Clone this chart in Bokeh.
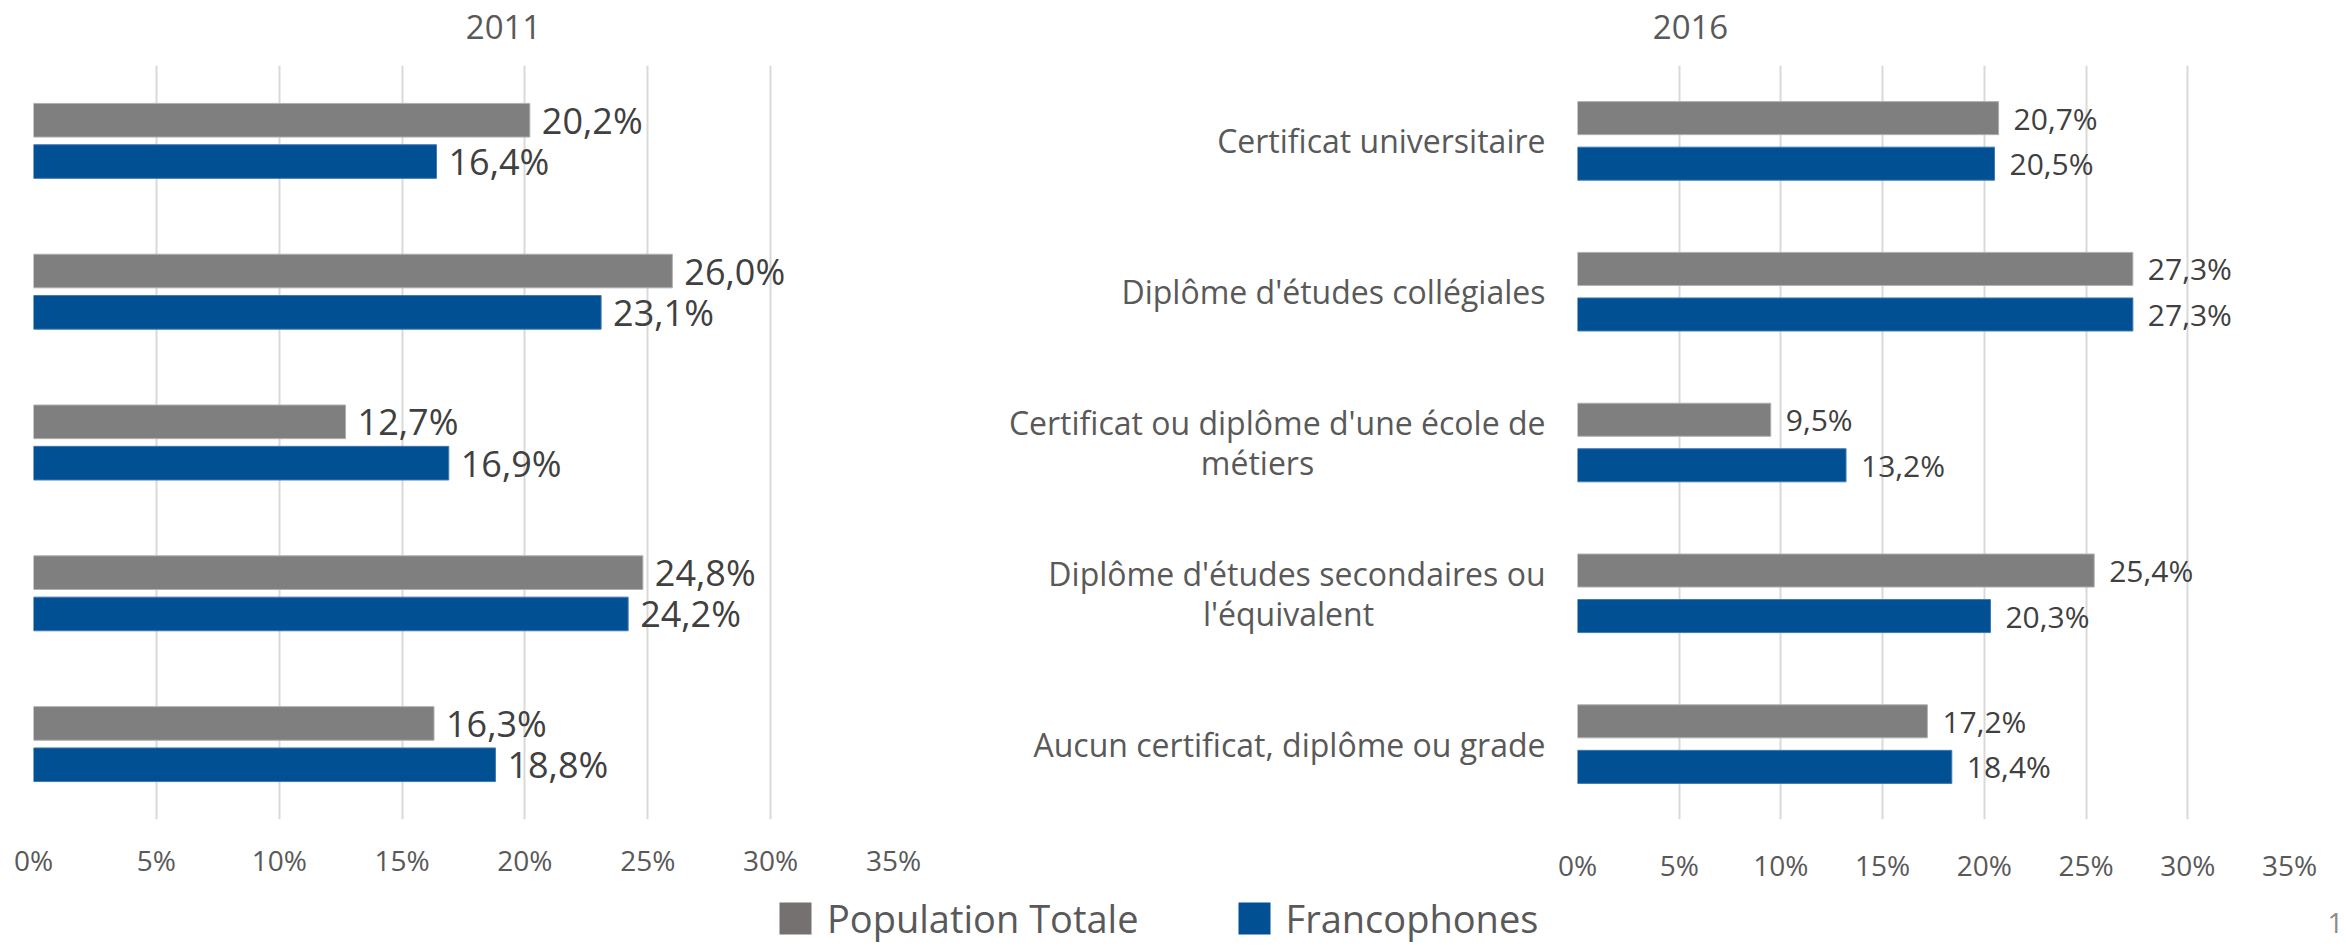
from bokeh.plotting import figure
from bokeh.models import (FactorRange, Range1d, FixedTicker, PrintfTickFormatter,
                          Label, Legend, LegendItem, ColumnDataSource)
from bokeh.transform import dodge
from bokeh.layouts import row, column
from bokeh.embed import file_html
from bokeh.resources import INLINE
from bokeh.core.properties import value

# ---------------- data ----------------
categories = [
    "Certificat universitaire",
    "Diplôme d'études collégiales",
    "Certificat ou diplôme d'une école de métiers",
    "Diplôme d'études secondaires ou l'équivalent",
    "Aucun certificat, diplôme ou grade",
]
category_lines = [
    ["Certificat universitaire"],
    ["Diplôme d'études collégiales"],
    ["Certificat ou diplôme d'une école de", "métiers"],
    ["Diplôme d'études secondaires ou", "l'équivalent"],
    ["Aucun certificat, diplôme ou grade"],
]
series_names = ["Population Totale", "Francophones"]
pop_2011 = [20.2, 26.0, 12.7, 24.8, 16.3]
fra_2011 = [16.4, 23.1, 16.9, 24.2, 18.8]
pop_2016 = [20.7, 27.3, 9.5, 25.4, 17.2]
fra_2016 = [20.5, 27.3, 13.2, 20.3, 18.4]
x_ticks = [0, 5, 10, 15, 20, 25, 30, 35]
titles = ["2011", "2016"]
page_number = "1"

GRAY = "#7f7f7f"
BLUE = "#005093"
FONT = "Open Sans"
TXT = "#595959"

W = 2346
TITLE_H = 55
LEG_H = 55
ROW_H = 947 - TITLE_H - LEG_H


def fmt(v):
    return ("%.1f" % v).replace(".", ",") + "%"


def blank(p):
    p.outline_line_color = None
    p.background_fill_color = "white"
    p.border_fill_color = "white"
    p.xgrid.visible = False
    p.ygrid.visible = False


def make_chart(pop, fra, width, bl, br, frame_top, frame_h, off, bar_h,
               lbl_size, lbl_off, standoff, y_range):
    bt = frame_top - TITLE_H
    p = figure(width=width, height=ROW_H,
               x_range=Range1d(x_ticks[0], x_ticks[-1]),
               y_range=y_range,
               toolbar_location=None, output_backend="svg",
               y_axis_location=None,
               min_border_left=bl, min_border_right=br,
               min_border_top=bt, min_border_bottom=ROW_H - bt - frame_h)
    p.outline_line_color = None
    p.background_fill_color = "white"
    p.border_fill_color = "white"
    src = ColumnDataSource(dict(cat=categories, pop=pop, fra=fra,
                                pop_lbl=[fmt(v) for v in pop],
                                fra_lbl=[fmt(v) for v in fra]))
    p.hbar(y=dodge("cat", off, range=p.y_range), left=0, right="pop",
           height=bar_h, source=src, fill_color=GRAY,
           line_color="#b0b0b0", line_width=1)
    p.hbar(y=dodge("cat", -off, range=p.y_range), left=0, right="fra",
           height=bar_h, source=src, fill_color=BLUE,
           line_color="#3f78b4", line_width=1)
    for col, lbl, o in (("pop", "pop_lbl", off), ("fra", "fra_lbl", -off)):
        p.text(x=col, y=dodge("cat", o, range=p.y_range), text=lbl,
               source=src, x_offset=lbl_off, text_baseline="middle",
               text_align="left", text_font=value(FONT),
               text_font_size=lbl_size, text_color="#404040")
    p.ygrid.grid_line_color = None
    p.xgrid.ticker = FixedTicker(ticks=x_ticks)
    p.xgrid.grid_line_color = "#d9d9d9"
    p.xgrid.grid_line_width = 2
    ax = p.xaxis[0]
    ax.ticker = FixedTicker(ticks=x_ticks)
    ax.formatter = PrintfTickFormatter(format="%d%%")
    ax.axis_line_color = None
    ax.major_tick_line_color = None
    ax.minor_tick_line_color = None
    ax.major_tick_out = 0
    ax.major_tick_in = 0
    ax.major_label_standoff = standoff
    ax.major_label_text_font = FONT
    ax.major_label_text_font_size = "28px"
    ax.major_label_text_color = TXT
    return p


left_yr = FactorRange(factors=list(reversed(categories)))
right_yr = FactorRange(factors=list(reversed(categories)))

# left frame spans x 33..893, y 65..819 ; right frame x 1577..2289, y 62..828
left = make_chart(pop_2011, fra_2011, 935, 33, 42, 65, 754,
                  0.137, 0.223, "36px", 12, 21, left_yr)
right = make_chart(pop_2016, fra_2016, 794, 25, 57, 62, 766,
                   0.151, 0.219, "30px", 15, 26, right_yr)

# category label strip between the two charts (shares the right chart's y scale)
LAB_W = 617
labs = figure(width=LAB_W, height=ROW_H, x_range=Range1d(0, LAB_W), y_range=right_yr,
              toolbar_location=None, output_backend="svg",
              x_axis_location=None, y_axis_location=None,
              min_border_left=0, min_border_right=0,
              min_border_top=62 - TITLE_H, min_border_bottom=ROW_H - (62 - TITLE_H) - 766)
blank(labs)
RIGHT_EDGE = 610
line1_block_width = {2: 576, 3: 514}
r_cat, r_txt, r_off = [], [], []
c_cat, c_txt, c_x = [], [], []
for i, lines in enumerate(category_lines):
    if len(lines) == 1:
        r_cat.append(categories[i]); r_txt.append(lines[0]); r_off.append(0)
    else:
        r_cat.append(categories[i]); r_txt.append(lines[0]); r_off.append(-20)
        c_cat.append(categories[i]); c_txt.append(lines[1])
        c_x.append(RIGHT_EDGE - line1_block_width[i] / 2)
labs.text(x=RIGHT_EDGE, y="cat", text="txt", y_offset="off",
          source=ColumnDataSource(dict(cat=r_cat, txt=r_txt, off=r_off)),
          text_align="right", text_baseline="middle", text_font=value(FONT),
          text_font_size="32px", text_color=TXT)
labs.text(x="x", y="cat", text="txt", y_offset=20,
          source=ColumnDataSource(dict(cat=c_cat, txt=c_txt, x=c_x)),
          text_align="center", text_baseline="middle", text_font=value(FONT),
          text_font_size="32px", text_color=TXT)

# title strip
top = figure(width=W, height=TITLE_H, x_range=Range1d(0, W), y_range=Range1d(TITLE_H, 0),
             toolbar_location=None, output_backend="svg",
             x_axis_location=None, y_axis_location=None, min_border=0)
blank(top)
for t, tx in zip(titles, (503, 1690)):
    top.add_layout(Label(x=tx, y=26, text=t, text_align="center",
                         text_baseline="middle", text_font=FONT,
                         text_font_size="33px", text_color=TXT))

# legend strip
leg = figure(width=W, height=LEG_H, x_range=Range1d(0, 1), y_range=Range1d(0, 1),
             toolbar_location=None, output_backend="svg",
             x_axis_location=None, y_axis_location=None, min_border=0)
blank(leg)
r1 = leg.quad(left=[2], right=[3], top=[3], bottom=[2], fill_color="#767171", line_color=None)
r2 = leg.quad(left=[2], right=[3], top=[3], bottom=[2], fill_color=BLUE, line_color=None)
legend = Legend(items=[LegendItem(label=series_names[0], renderers=[r1]),
                       LegendItem(label=series_names[1], renderers=[r2])],
                location=(775, 3), orientation="horizontal",
                glyph_width=40, glyph_height=40, label_standoff=12, spacing=95,
                padding=0, margin=0, border_line_color=None,
                background_fill_alpha=0, label_text_font=FONT,
                label_text_font_size="38px", label_text_color=TXT)
leg.add_layout(legend)
leg.add_layout(Label(x=2335, y=25, x_units="screen", y_units="screen",
                     text=page_number, text_align="center", text_baseline="middle",
                     text_font=FONT, text_font_size="28px", text_color="#8c8c8c"))

layout = column(top, row(left, labs, right, spacing=0), leg, spacing=0)
open("out.html", "w").write(file_html(layout, INLINE))
